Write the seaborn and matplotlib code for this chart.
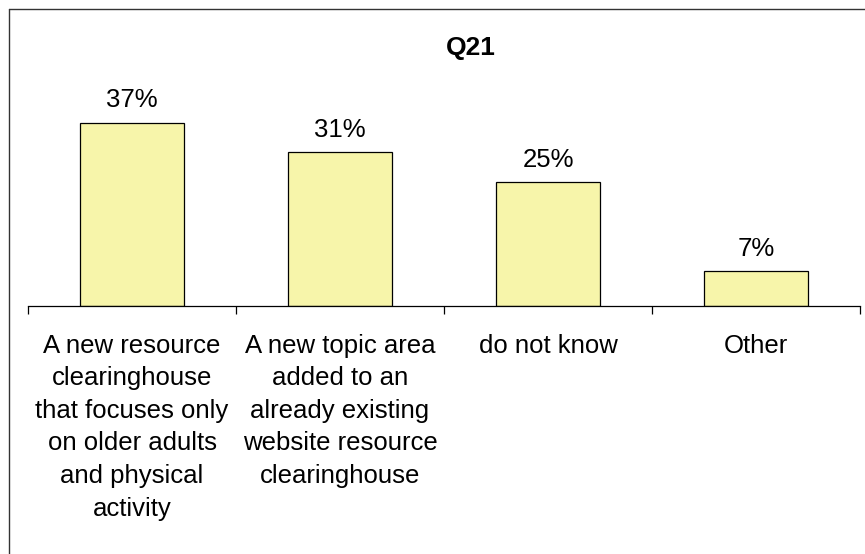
import numpy as np
import pandas as pd
import seaborn as sns
import matplotlib.pyplot as plt
from matplotlib.lines import Line2D

# ------------------------------
# data
# ------------------------------
categories = ["new clearinghouse", "new topic area", "do not know", "Other"]
tick_labels = [
    "A new resource\nclearinghouse\nthat focuses only\non older adults\nand physical\nactivity",
    "A new topic area\nadded to an\nalready existing\nwebsite resource\nclearinghouse",
    "do not know",
    "Other",
]
values = [37, 31, 25, 7]
title = "Q21"

BAR_COLOR = "#F7F5AA"

sns.set_theme(style="white")
plt.rcParams["font.family"] = ["Liberation Sans", "DejaVu Sans"]
plt.rcParams["text.color"] = "black"
plt.rcParams["xtick.color"] = "black"

df = pd.DataFrame({"answer": categories, "pct": values})

fig = plt.figure(figsize=(8.65, 5.54), dpi=100)
ax = fig.add_axes([28 / 865, 248 / 554, 832 / 865, 223 / 554])

sns.barplot(data=df, x="answer", y="pct", color=BAR_COLOR, saturation=1,
            width=0.5, edgecolor="black", linewidth=0.9, ax=ax)

ax.set_xlim(-0.5, len(categories) - 0.5)
ax.set_ylim(0, 45)
ax.set_xlabel("")
ax.set_ylabel("")
ax.set_yticks([])

for s in ["top", "left", "right"]:
    ax.spines[s].set_visible(False)
ax.spines["bottom"].set_color("black")
ax.spines["bottom"].set_linewidth(0.9)

# labels centred under bars, tick marks between categories
ax.set_xticks(range(len(categories)))
ax.set_xticklabels(tick_labels, fontsize=18.5, linespacing=1.45, va="top", color="black")
ax.tick_params(axis="x", which="major", length=0, pad=20)
ax.set_xticks(np.arange(-0.5, len(categories)), minor=True)
ax.tick_params(axis="x", which="minor", length=6, width=0.9, color="black",
               direction="out", bottom=True)

for i, v in enumerate(values):
    ax.annotate(f"{v}%", (i, v), xytext=(0, 16), textcoords="offset points",
                ha="center", va="center", fontsize=18.5, color="black",
                annotation_clip=False)

fig.text(471 / 865, 1 - 48 / 554, title, ha="center", va="center",
         fontsize=19, fontweight="bold", color="black")

# outer frame (top and left edge only visible in the crop)
fig.add_artist(Line2D([9 / 865, 9 / 865], [0, 1 - 9 / 554], transform=fig.transFigure,
                      color="#333333", linewidth=1.0))
fig.add_artist(Line2D([9 / 865, 1], [1 - 9 / 554, 1 - 9 / 554], transform=fig.transFigure,
                      color="#333333", linewidth=1.0))

fig.savefig("out.png", dpi=100)
